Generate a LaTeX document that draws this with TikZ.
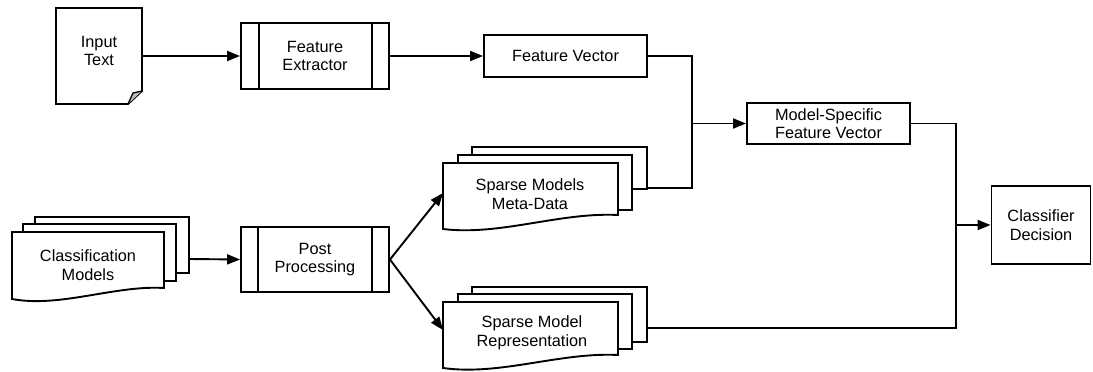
\documentclass[tikz,border=0pt]{standalone}
\usepackage{fontspec}
\setmainfont{Liberation Sans}
\usetikzlibrary{arrows.meta}
\newcommand\lblfont{\fontsize{16.3}{18.5}\selectfont}
\begin{document}
\begin{tikzpicture}[x=1pt,y=-1pt,
  outline/.style={draw, line width=1.9pt, fill=white, line join=miter},
  box/.style={rectangle, draw, line width=1.9pt, fill=white, align=center, font=\lblfont, inner sep=0pt},
  txt/.style={rectangle, align=center, font=\lblfont, inner sep=0pt},
  conn/.style={line width=1.9pt},
  arr/.style={conn, -{Triangle[length=13pt,width=10pt]}}]
\useasboundingbox (0,0) rectangle (1093,372);

% Input Text document
\draw[outline] (56,8) -- (142,8) -- (142,91) -- (128,104) -- (56,104) -- cycle;
\draw[line width=1.3pt, fill=gray!55] (128,104) .. controls (130,98) .. (133,93) -- (142,91);
\node[txt, minimum width=86pt, minimum height=96pt] (it) at (99,56) {};
\node[txt] (itl) at (99,51) {Input\\Text};

% Feature Extractor (predefined process)
\node[box, minimum width=148pt, minimum height=66pt] (fe) at (315,56) {Feature\\Extractor};
\draw[conn] ([xshift=19pt]fe.north west) -- ([xshift=19pt]fe.south west);
\draw[conn] ([xshift=-18pt]fe.north east) -- ([xshift=-18pt]fe.south east);

% Feature Vector
\node[box, minimum width=163pt, minimum height=42pt] (fv) at (565.5,56) {Feature Vector};

% Model-Specific Feature Vector
\node[box, minimum width=163pt, minimum height=41pt] (ms) at (828.5,123.5) {Model-Specific\\Feature Vector};

% Classifier Decision
\node[box, minimum width=99pt, minimum height=78pt] (cd) at (1041,225) {Classifier\\Decision};

% Post Processing
\node[box, minimum width=148pt, minimum height=65pt] (pp) at (315,259.5) {Post\\Processing};
\draw[conn] ([xshift=18pt]pp.north west) -- ([xshift=18pt]pp.south west);
\draw[conn] ([xshift=-18pt]pp.north east) -- ([xshift=-18pt]pp.south east);

% Classification Models (stacked documents)
\draw[outline] (35,217) rectangle (189,273);
\draw[outline] (23,224) rectangle (176,281);
\draw[outline] (12,232) -- (164,232) -- (164,288) .. controls (115,285) and (60,308) .. (12,299) -- cycle;
\node[txt] (cm) at (88,265) {Classification\\Models};
\coordinate (cmback) at (189,259);

% Sparse Models Meta-Data (stacked documents)
\draw[outline] (472,147) rectangle (647,189);
\draw[outline] (458,155) rectangle (632,210);
\draw[outline] (443,163) -- (618,163) -- (618,215) .. controls (560,212) and (500,236) .. (443,229) -- cycle;
\node[txt] (smd) at (530,194) {Sparse Models\\Meta-Data};
\coordinate (smdin) at (443,193);
\coordinate (smdback) at (647,188);

% Sparse Model Representation (stacked documents)
\draw[outline] (472,287) rectangle (647,342);
\draw[outline] (458,294) rectangle (632,349);
\draw[outline] (443,302) -- (618,302) -- (618,355) .. controls (560,352) and (500,376) .. (443,368) -- cycle;
\node[txt] (smr) at (532,333) {Sparse Model\\Representation};
\coordinate (smrin) at (443,330);
\coordinate (smrback) at (647,328);

% junctions
\coordinate (j1) at (692,123.5);
\coordinate (j2) at (956,225);

% connectors
\draw[arr] (it.east) -- (fe.west);
\draw[arr] (fe.east) -- (fv.west);
\draw[conn] (fv.east) -| (j1) |- (smdback);
\draw[arr] (j1) -- (ms.west);
\draw[arr] (cmback) -- (pp.west);
\draw[arr] (pp.east) -- (smdin);
\draw[arr] (pp.east) -- (smrin);
\draw[conn] (ms.east) -| (j2) |- (smrback);
\draw[arr] (j2) -- (cd.west);
\end{tikzpicture}
\end{document}
